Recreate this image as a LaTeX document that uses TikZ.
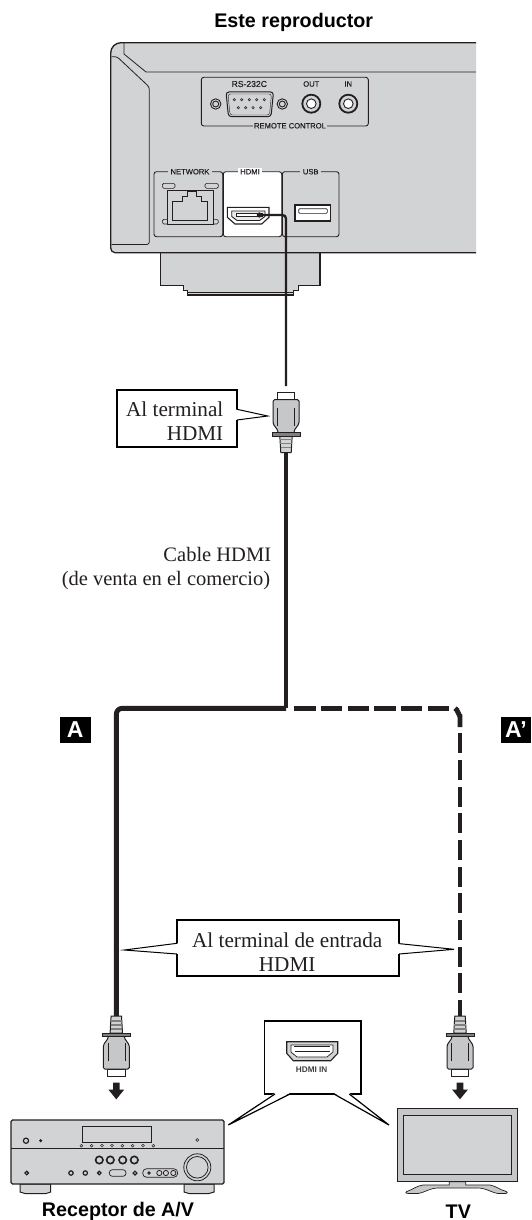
\documentclass[tikz,border=0pt]{standalone}
\usepackage{fontspec}
\setmainfont{Liberation Serif}
\newfontfamily\arialf{Liberation Sans}
\newfontfamily\arialfb[FakeBold=0.35]{Liberation Sans}
\definecolor{panelgray}{HTML}{D2D3D5}
\definecolor{inkk}{HTML}{231F20}
\definecolor{framegray}{HTML}{C6C7C9}
\newcommand{\fsz}[1]{\fontsize{#1}{#1}\selectfont}
\tikzset{
  x=1pt,y=-1pt,
  ink/.style={draw=inkk,line width=1pt},
  metal/.style={ink,fill=panelgray},
  panel/.style={draw=inkk,line width=0.9pt,rounded corners=2.5pt},
  cable/.style={draw=inkk,line width=4.9pt},
  thincable/.style={draw=inkk,line width=2.3pt},
  calloutbox/.style={draw=black,line width=1.7pt,fill=white,inner sep=0pt},
  pointer/.style={draw=black,line width=1pt},
  serif/.style={inner sep=0pt,font=\fsz{20.5},text=inkk,text depth=0pt},
  boldlabel/.style={inner sep=0pt,font=\arialf\bfseries\fsz{19.7},text=black},
  tiny/.style={inner sep=0.8pt,font=\arialfb\fsz{7.6},text=inkk},
  badge/.style={fill=black,inner sep=0pt,minimum height=26pt,text=white,font=\arialf\bfseries\fsz{23}},
  plug/.pic={
    \draw[ink,fill=white] (-8.7,0) rectangle (8.7,7);
    \draw[ink,fill=framegray,rounded corners=1.5pt] (-13,7) -- (-13,31) -- (-8,38) -- (-8,41) -- (8,41) -- (8,38) -- (13,31) -- (13,7) -- cycle;
    \draw[draw=inkk,line width=0.5pt] (-8.5,15) -- (-8.5,33) (8.5,15) -- (8.5,33);
    \draw[ink,fill=panelgray] (-6.2,43) -- (-5.2,60) -- (5.2,60) -- (6.2,43) -- cycle;
    \draw[draw=gray,line width=1.2pt] (-5.8,47) -- (5.8,47) (-5.6,51) -- (5.6,51) (-5.4,55) -- (5.4,55);
    \draw[draw=inkk,line width=0.6pt,fill=gray] (-14,40) rectangle (14,43.2);
  },
  downarrow/.pic={
    \fill[inkk] (-3.3,0) -- (3.3,0) -- (3.3,7) -- (7.8,7) -- (0,16.6) -- (-7.8,7) -- (-3.3,7) -- cycle;
  },
}
\begin{document}
\begin{tikzpicture}
\useasboundingbox (0,0) rectangle (531,1220);
\fill[white] (0,0) rectangle (531,1220);

% ---------- Player
\node[boldlabel] (title) at (293.7,22) {Este reproductor};
% foot
\draw[metal,line width=1.2pt] (160.7,252.7) -- (160.7,285.7) -- (183.3,285.7) -- (183.3,290.7) -- (187.3,290.7) -- (187.3,295) -- (293.3,295) -- (293.3,290.7) -- (298.3,290.7) -- (298.3,285.7) -- (320,285.7) -- (320,252.7);
\draw[draw=inkk,line width=0.5pt] (187.3,292.5) -- (293.3,292.5);
% body
\fill[panelgray] (476,42.7) -- (121,42.7) to[out=180,in=90] (110.7,53) -- (110.7,248) to[out=-90,in=180] (115,252.7) -- (476,252.7) -- cycle;
\draw[draw=inkk,line width=1.3pt] (476,42.7) -- (121,42.7) to[out=180,in=90] (110.7,53) -- (110.7,248) to[out=-90,in=180] (115,252.7) -- (476,252.7);
\draw[draw=inkk,line width=0.8pt] (124,43) -- (124,54) -- (146,72) -- (476,72);
\draw[draw=inkk,line width=0.8pt,rounded corners=2.5pt] (111.5,56.7) -- (117,56.7) -- (149.3,87) -- (149.3,244.5) -- (111.5,244.5);

% remote control panel
\draw[panel] (201.3,77.3) rectangle (368.3,126);
\node[tiny,font=\arialfb\fsz{8.6},fill=panelgray] (lblrs) at (249.3,84) {RS-232C};
\node[tiny,fill=panelgray] (lblout) at (311.3,84) {OUT};
\node[tiny,fill=panelgray] (lblin) at (348.3,84) {IN};
\node[tiny,fill=panelgray] (lblrc) at (290,125.8) {REMOTE CONTROL};
\draw[draw=inkk,line width=1pt,fill=panelgray,rounded corners=3pt] (226,92) -- (273.5,92) -- (271,116.7) -- (228.5,116.7) -- cycle;
\draw[draw=inkk,line width=0.4pt,rounded corners=2.5pt] (228,94) -- (271.5,94) -- (269.5,115) -- (230,115) -- cycle;
\foreach \px in {234.3,241.7,249.3,256.7,264.3} \draw[draw=inkk,line width=0.5pt] (\px,99.7) circle (1.2);
\foreach \px in {238.3,245.7,253,260.7} \draw[draw=inkk,line width=0.5pt] (\px,107.7) circle (1.2);
\foreach \px in {215.7,282.3} {
  \draw[draw=inkk,line width=0.9pt] (\px,104) circle (5.2);
  \draw[draw=inkk,line width=0.9pt] (\px,104) circle (3);
}
\foreach \px in {311.3,348.3} {
  \draw[draw=inkk,line width=1.8pt,fill=panelgray] (\px,103.7) circle (9);
  \draw[draw=inkk,line width=0.9pt,fill=white] (\px,103.7) circle (4.8);
}

% lower panels
\draw[panel] (154,171.7) rectangle (222.7,236.7);
\draw[panel] (282.3,171.7) rectangle (339,236.7);
\draw[panel,fill=white] (223.3,171.7) rectangle (281.7,236.7);
\node[tiny,fill=panelgray,inner xsep=2.5pt] (lblnet) at (190,171.7) {NETWORK};
\node[tiny,fill=white,inner xsep=2.5pt] (lblhdmi) at (250,171.7) {HDMI};
\node[tiny,fill=panelgray,inner xsep=2.5pt] (lblusb) at (310.7,171.7) {USB};
% ethernet
\draw[draw=inkk,line width=0.6pt,fill=panelgray,rounded corners=1.5pt] (162.3,183.3) rectangle (175,188.3);
\draw[draw=inkk,line width=0.6pt,fill=panelgray,rounded corners=1.5pt] (205,183.3) rectangle (218.3,188.3);
\draw[draw=inkk,line width=0.6pt,fill=panelgray,rounded corners=1.5pt] (162.3,219.3) rectangle (170,224);
\draw[draw=inkk,line width=0.6pt,fill=panelgray,rounded corners=1.5pt] (211,219.3) rectangle (218.3,224);
\draw[draw=inkk,line width=1pt,fill=panelgray] (167.7,190) rectangle (213.3,224);
\draw[draw=inkk,line width=1pt] (172.7,220) -- (172.7,201) -- (182.3,201) -- (182.3,196) -- (187.3,196) -- (187.3,191.7) -- (196.7,191.7) -- (196.7,196) -- (201.7,196) -- (201.7,201) -- (207.7,201) -- (207.7,220) -- cycle;
% hdmi port on player
\draw[draw=inkk,line width=1.1pt,fill=white] (227.3,207.3) -- (269,207.3) -- (269,217.3) -- (261.7,224) -- (235,224) -- (227.3,217.3) -- cycle;
\draw[draw=inkk,line width=0.9pt,fill=panelgray!50] (231.7,211) -- (265,211) -- (265,216.5) -- (259.5,220.5) -- (237,220.5) -- (231.7,216.5) -- cycle;
\draw[draw=inkk,line width=0.5pt,fill=white] (236,213.5) rectangle (262,216);
% usb
\draw[draw=inkk,line width=1.2pt,fill=white] (295,205) rectangle (330.7,221);
\draw[draw=inkk,line width=0.6pt,rounded corners=1pt] (298.7,208.7) rectangle (327.3,213.3);

% ---------- Cables
\coordinate (portdot) at (259.3,215);
\coordinate (thinend) at (286,386);
\coordinate (plugAbottom) at (286,452);
\coordinate (junction) at (286,708.3);
\coordinate (leftturn) at (116.3,708.3);
\coordinate (plugBtop) at (116.3,1017);
\coordinate (dashstart) at (294.3,708.3);
\coordinate (dashend) at (449,708.3);
\coordinate (cornerstart) at (455,708.3);
\coordinate (cornerbend) at (460,716);
\coordinate (cornerend) at (460,727);
\coordinate (vdashstart) at (460,733.3);
\coordinate (plugCtop) at (460,1017);

\fill[inkk] (portdot) circle (2.6);
\draw[thincable,rounded corners=3.5pt] (portdot) -| (thinend);
\draw[cable] (plugAbottom) -- (junction);
\draw[cable,rounded corners=6pt] (junction) -- (leftturn) -- (plugBtop);
\draw[cable,dash pattern=on 21.33pt off 5.33pt] (dashstart) -- (dashend);
\draw[cable] (cornerstart) to[out=0,in=-90,looseness=0.6] (cornerbend) -- (cornerend);
\draw[cable,dash pattern=on 20pt off 6.67pt] (vdashstart) -- (plugCtop);

% ---------- Plugs and arrows
\pic (plugA) at (286,392.7) {plug};
\pic[yscale=-1] (plugB) at (116.3,1076) {plug};
\pic[yscale=-1] (plugC) at (460,1076) {plug};
\pic (arrB) at (116.3,1082.7) {downarrow};
\pic (arrC) at (460,1082.7) {downarrow};

% ---------- Callouts
\node[calloutbox,minimum width=120.6pt,minimum height=56.7pt] (boxA) at (177,418.3) {};
\coordinate (tipA) at (267.7,416);
\fill[white] (236,409.5) -- (tipA) -- (236,420) -- cycle;
\draw[pointer] (237,409.3) -- (tipA) -- (237,420);
\node[serif,align=right,anchor=east,font=\fsz{21.2}] (txtA) at (223.5,421) {Al terminal\\[2.3pt]HDMI};

\node[serif,anchor=base east] (txtCable) at (271.3,561.5) {Cable HDMI};
\node[serif,anchor=base east] (txtCable2) at (270.3,585) {(de venta en el comercio)};

\node[calloutbox,minimum width=222.3pt,minimum height=56pt] (boxB) at (287.8,948) {};
\coordinate (tipL) at (124.3,950);
\coordinate (tipR) at (454,949.3);
\fill[white] (178,943.3) -- (tipL) -- (178,954) -- cycle;
\fill[white] (398,943.6) -- (tipR) -- (398,954) -- cycle;
\draw[pointer] (177,943.3) -- (tipL) -- (177,954);
\draw[pointer] (399,943.6) -- (tipR) -- (399,954);
\node[serif,align=center,font=\fsz{21.2}] (txtB) at (287.2,952) {Al terminal de entrada\\[2.3pt]HDMI};

% HDMI IN callout
\node[calloutbox,minimum width=96.7pt,minimum height=73.3pt] (boxC) at (312.7,1057.4) {};
\coordinate (tipRx) at (228.3,1125);
\coordinate (tipTV) at (389,1125);
\fill[white] (275,1093) -- (tipRx) -- (290,1093) -- cycle;
\fill[white] (334,1093) -- (tipTV) -- (349.3,1093) -- cycle;
\draw[pointer,line width=1.2pt] (275,1094) -- (tipRx) -- (290,1094);
\draw[pointer,line width=1.2pt] (334,1094) -- (tipTV) -- (349.3,1094);
\draw[draw=inkk,line width=1.1pt,fill=panelgray] (286.7,1041.7) -- (337.7,1041.7) -- (337.7,1053.3) -- (330.7,1060.7) -- (293.3,1060.7) -- (286.7,1053.3) -- cycle;
\draw[draw=inkk,line width=0.7pt,fill=white] (291,1045) -- (333,1045) -- (333,1052) -- (327,1057) -- (297,1057) -- (291,1052) -- cycle;
\draw[draw=inkk,line width=1.2pt] (294,1046.5) -- (330,1046.5);
\draw[draw=inkk,line width=0.5pt] (294.5,1051.5) -- (329.5,1051.5);
\node[inner sep=0pt,font=\arialf\bfseries\fsz{8.2},text=black!75] (hdmiin) at (311.7,1070) {HDMI IN};

% ---------- Receiver
\draw[metal] (20,1184) -- (20,1192) -- (25,1193.5) -- (46,1193.5) -- (50.7,1192) -- (50.7,1184) -- cycle;
\draw[metal] (184,1184) -- (184,1192) -- (189,1193.5) -- (209,1193.5) -- (214,1192) -- (214,1184) -- cycle;
\draw[draw=inkk,line width=1.3pt,fill=panelgray,rounded corners=1.5pt] (11,1120) rectangle (224,1184);
\draw[draw=inkk,line width=0.8pt] (11,1148.3) -- (224,1148.3);
\draw[draw=inkk,line width=0.8pt] (82.7,1126.7) rectangle (151.7,1142.3);
\foreach \px in {81.3,91.7,102,112,122.3,132.7,143,153.3} \draw[draw=inkk,line width=0.5pt,fill=panelgray] (\px,1145.7) circle (1.4);
\draw[draw=inkk,line width=1.2pt,fill=panelgray] (26,1140.7) circle (2.6);
\fill[inkk] (40.7,1140.7) circle (1.7);
\draw[draw=inkk,line width=0.5pt] (197.3,1140) circle (1.5);
\foreach \px in {99.3,110.3,122.7,134.3} {
  \draw[draw=inkk,line width=1.6pt,fill=panelgray] (\px,1160) circle (3.7);
}
\foreach \px/\pr in {26.7/1.8,71/2.2,85.3/2.2,99.3/1.8,135/1.9} \draw[draw=inkk,line width=1.2pt,fill=panelgray] (\px,1173) circle (\pr);
\draw[draw=inkk,line width=0.7pt,rounded corners=3pt] (109.3,1169.7) rectangle (126,1176.3);
\draw[draw=inkk,line width=0.7pt,rounded corners=4pt] (142.7,1168.7) rectangle (177.7,1177.3);
\draw[draw=inkk,line width=0.9pt] (149,1173) circle (1.2);
\foreach \px in {159.3,165.9,173.3} \draw[draw=inkk,line width=0.8pt] (\px,1173) circle (2.6);
\draw[draw=inkk,line width=0.8pt] (197.3,1167.3) circle (13.5);
\draw[draw=inkk,line width=0.8pt] (197.3,1167.3) circle (10.8);
\node[boldlabel] (rcvlabel) at (118,1211.5) {Receptor de A/V};

% ---------- TV
\draw[draw=inkk,line width=0.7pt,fill=framegray] (449.3,1181.7) -- (449.3,1185) -- (423,1185) .. controls (416,1186) and (412,1190) .. (408,1191) .. controls (405,1192) and (405,1193.5) .. (409,1193.5) -- (418,1193.5) .. controls (426,1192) and (430,1188) .. (438,1188) -- (478,1188) .. controls (486,1188) and (490,1192) .. (498,1193.5) -- (505,1193.5) .. controls (508,1193.5) and (508,1192) .. (505,1191) .. controls (500,1190) and (496,1186) .. (490,1185) -- (465.7,1185) -- (465.7,1181.7) -- cycle;
\draw[draw=inkk,line width=1pt,fill=framegray] (397.3,1108.3) rectangle (517,1181.7);
\draw[draw=inkk,line width=0.8pt,fill=panelgray] (403.3,1115.3) rectangle (511,1174);
\node[boldlabel] (tvlabel) at (458.3,1211.5) {TV};

% ---------- Badges
\node[badge,minimum width=30.7pt] (badgeA) at (75.3,730) {A};
\node[badge,minimum width=30pt] (badgeAp) at (516,730) {A’};
\end{tikzpicture}
\end{document}
